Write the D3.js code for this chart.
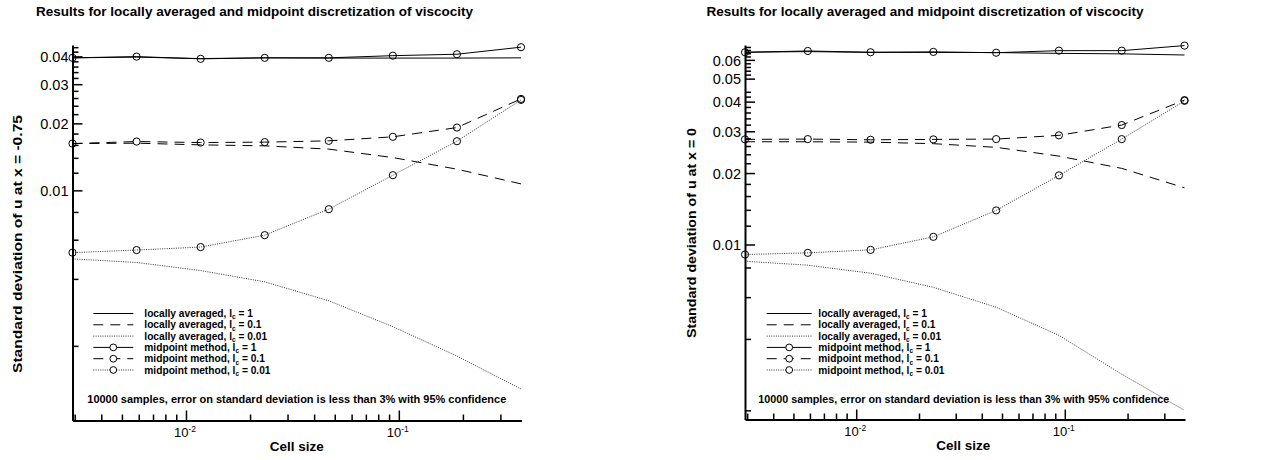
<!DOCTYPE html>
<html>
<head>
<meta charset="utf-8">
<script src="https://cdn.jsdelivr.net/npm/d3@7"></script>
<style>
  body { margin: 0; background: #fff; }
  svg { display: block; }
  text { font-family: "Liberation Sans", Arial, Helvetica, sans-serif; fill: #000; }
</style>
</head>
<body>
<svg id="chart" width="1261" height="460"></svg>
<script>
// Cell sizes (halved each refinement)
const cellSize = [0.0029297, 0.0058594, 0.0117188, 0.0234375, 0.046875, 0.09375, 0.1875, 0.375];

// Standard deviation of u at x = -0.75
const westAvg1   = [0.0394, 0.0397, 0.0391, 0.0394, 0.0393, 0.0393, 0.0393, 0.0394];
const westAvg01  = [0.01623, 0.01629, 0.01601, 0.01585, 0.01532, 0.01404, 0.01245, 0.01069];
const westAvg001 = [0.00492, 0.00474, 0.00436, 0.00388, 0.00319, 0.00244, 0.00180, 0.00128];
const westMid1   = [0.0394, 0.0399, 0.0390, 0.0394, 0.0394, 0.0403, 0.0409, 0.0440];
const westMid01  = [0.01623, 0.01657, 0.0164, 0.01647, 0.01669, 0.0174, 0.01915, 0.02576];
const westMid001 = [0.00525, 0.00539, 0.00556, 0.00629, 0.00823, 0.0117, 0.01663, 0.0255];

// Standard deviation of u at x = 0
const centreAvg1   = [0.0646, 0.0650, 0.0645, 0.0645, 0.0644, 0.0639, 0.0636, 0.0629];
const centreAvg01  = [0.0271, 0.0271, 0.0270, 0.0266, 0.02567, 0.02358, 0.02093, 0.01733];
const centreAvg001 = [0.0085, 0.00818, 0.00757, 0.0066, 0.00544, 0.00414, 0.00284, 0.00200];
const centreMid1   = [0.0646, 0.0654, 0.0646, 0.0648, 0.0643, 0.0656, 0.0656, 0.0689];
const centreMid01  = [0.02773, 0.02781, 0.02762, 0.02773, 0.02781, 0.02884, 0.03187, 0.0406];
const centreMid001 = [0.00907, 0.00922, 0.00949, 0.01077, 0.01392, 0.01955, 0.0278, 0.0403];

// Axis ticks
const xMajorTicks = [0.01, 0.1];
const xMajorExponents = ["-2", "-1"];
const xMinorTicks = [0.003, 0.004, 0.005, 0.006, 0.007, 0.008, 0.009,
                     0.02, 0.03, 0.04, 0.05, 0.06, 0.07, 0.08, 0.09, 0.2, 0.3];
const westYLabels = [0.01, 0.02, 0.03, 0.04];
const centreYLabels = [0.01, 0.02, 0.03, 0.04, 0.05, 0.06];
const yMinorTicks = [0.002, 0.004, 0.006, 0.008, 0.012, 0.014, 0.016, 0.018,
                     0.022, 0.024, 0.026, 0.028, 0.032, 0.034, 0.036, 0.038,
                     0.042, 0.044, 0.052, 0.054, 0.056, 0.058, 0.062, 0.064, 0.066, 0.068];

const legendLabels = [
  { name: "locally averaged, l", val: " = 1" },
  { name: "locally averaged, l", val: " = 0.1" },
  { name: "locally averaged, l", val: " = 0.01" },
  { name: "midpoint method, l", val: " = 1" },
  { name: "midpoint method, l", val: " = 0.1" },
  { name: "midpoint method, l", val: " = 0.01" }
];

const titleText = "Results for locally averaged and midpoint discretization of viscocity";
const noteText = "10000 samples, error on  standard deviation is less than 3% with 95% confidence";

const styles = {
  solid:  { dash: null,    color: "#000", width: 1 },
  dashed: { dash: "10,7",  color: "#000", width: 1 },
  dotted: { dash: "1,1.3", color: "#333", width: 1 }
};

const svg = d3.select("#chart");

function drawPanel(p) {
  const g = svg.append("g");
  const x = d3.scaleLog().domain(p.xDomain).range(p.xRange);
  const y = d3.scaleLog().domain(p.yDomain).range(p.yRange);
  const x0 = p.xRange[0], yBase = p.yRange[0];

  // title
  g.append("text").attr("x", p.titleX).attr("y", 16)
    .attr("text-anchor", "middle").attr("font-weight", "bold").attr("font-size", 13.5)
    .attr("textLength", 437).attr("lengthAdjust", "spacingAndGlyphs")
    .text(titleText);

  // series
  const series = [
    { v: p.avg1,   s: styles.solid,  mark: false },
    { v: p.avg01,  s: styles.dashed, mark: false },
    { v: p.avg001, s: styles.dotted, mark: false },
    { v: p.mid1,   s: styles.solid,  mark: true },
    { v: p.mid01,  s: styles.dashed, mark: true },
    { v: p.mid001, s: styles.dotted, mark: true }
  ];
  const line = d3.line().x((d, i) => x(cellSize[i])).y(d => y(d));
  series.forEach(se => {
    g.append("path").datum(se.v).attr("d", line)
      .attr("fill", "none").attr("stroke", se.s.color)
      .attr("stroke-width", se.s.width)
      .attr("stroke-dasharray", se.s.dash);
    if (se.mark) {
      g.selectAll(null).data(se.v).join("circle")
        .attr("cx", (d, i) => x(cellSize[i])).attr("cy", d => y(d))
        .attr("r", 3.6).attr("fill", "none").attr("stroke", "#000").attr("stroke-width", 1);
    }
  });

  // x axis
  const xa = g.append("g").attr("transform", `translate(0,${yBase})`);
  xa.call(d3.axisBottom(x).tickValues(xMinorTicks).tickSize(-6).tickSizeOuter(0).tickFormat(""));
  const xb = g.append("g").attr("transform", `translate(0,${yBase})`);
  xb.call(d3.axisBottom(x).tickValues(xMajorTicks).tickSize(-10).tickSizeOuter(0).tickFormat(""));
  xb.select(".domain").attr("stroke-width", 2);
  xa.select(".domain").remove();
  g.selectAll(".tick line").attr("stroke-width", 1.5);
  xMajorTicks.forEach((t, i) => {
    const tx = g.append("text").attr("x", x(t) - 1).attr("y", yBase + 16.5)
      .attr("text-anchor", "middle").attr("font-size", 13);
    tx.append("tspan").text("10");
    tx.append("tspan").attr("dy", -5).attr("font-size", 8.5).text(xMajorExponents[i]);
  });
  g.append("text").attr("x", p.xTitleX).attr("y", yBase + 30)
    .attr("text-anchor", "middle").attr("font-weight", "bold").attr("font-size", 13.5)
    .text("Cell size");

  // y axis
  const ya = g.append("g").attr("transform", `translate(${x0},0)`);
  ya.call(d3.axisLeft(y).tickValues(yMinorTicks.filter(t => t > p.yDomain[0] && t < p.yDomain[1]))
    .tickSize(-6).tickSizeOuter(0).tickFormat(""));
  ya.select(".domain").remove();
  const yb = g.append("g").attr("transform", `translate(${x0},0)`);
  yb.call(d3.axisLeft(y).tickValues(p.yLabels).tickSize(-10).tickSizeOuter(0)
    .tickPadding(4).tickFormat(d3.format(".2f")));
  yb.select(".domain").attr("stroke-width", 2);
  yb.selectAll("text").attr("font-size", 14.5).attr("font-family", "'Liberation Sans', Arial, sans-serif")
    .attr("dy", "0.36em");
  g.selectAll(".tick line").attr("stroke-width", 1.5);

  g.append("text")
    .attr("transform", `translate(${p.yTitleX},${p.yTitleY}) rotate(-90)`)
    .attr("text-anchor", "middle").attr("font-weight", "bold").attr("font-size", 13.5)
    .attr("textLength", p.yTitleLen).attr("lengthAdjust", "spacingAndGlyphs")
    .text(p.yTitle);

  // legend
  const lg = g.append("g");
  const legendStyles = [styles.solid, styles.dashed, styles.dotted, styles.solid, styles.dashed, styles.dotted];
  legendStyles.forEach((s, i) => {
    const ly = 313.5 + i * 11.3;
    lg.append("line").attr("x1", p.legendX).attr("x2", p.legendX + p.legendLen)
      .attr("y1", ly).attr("y2", ly).attr("stroke", s.color).attr("stroke-width", s.width)
      .attr("stroke-dasharray", s.dash);
    if (i >= 3) {
      lg.append("circle").attr("cx", p.legendX + p.legendLen / 2).attr("cy", ly).attr("r", 3.4)
        .attr("fill", "#fff").attr("stroke", "#000");
    }
    const t = lg.append("text").attr("x", p.legendTextX).attr("y", ly + 3.6)
      .attr("font-weight", "bold").attr("font-size", 10.2);
    t.append("tspan").text(legendLabels[i].name);
    t.append("tspan").attr("dy", 2.2).attr("font-size", 6.5).text("c");
    t.append("tspan").attr("dy", -2.2).text(legendLabels[i].val);
  });

  // note
  g.append("text").attr("x", p.noteX).attr("y", 403)
    .attr("font-weight", "bold").attr("font-size", 10.5)
    .attr("textLength", p.noteLen).attr("lengthAdjust", "spacingAndGlyphs")
    .text(noteText);
}

drawPanel({
  xDomain: [0.0029297, 0.377], xRange: [72.5, 521.5],
  yDomain: [0.000924, 0.045], yRange: [420.5, 45],
  yLabels: westYLabels,
  avg1: westAvg1, avg01: westAvg01, avg001: westAvg001,
  mid1: westMid1, mid01: westMid01, mid001: westMid001,
  titleX: 254.5, xTitleX: 296.7,
  yTitle: "Standard deviation of u at x = -0.75", yTitleX: 21.5, yTitleY: 244, yTitleLen: 258,
  legendX: 93.3, legendLen: 40, legendTextX: 144.3,
  noteX: 87.3, noteLen: 419
});

drawPanel({
  xDomain: [0.0029297, 0.377], xRange: [745, 1185],
  yDomain: [0.00183, 0.0693], yRange: [419.5, 45],
  yLabels: centreYLabels,
  avg1: centreAvg1, avg01: centreAvg01, avg001: centreAvg001,
  mid1: centreMid1, mid01: centreMid01, mid001: centreMid001,
  titleX: 925, xTitleX: 963.3,
  yTitle: "Standard deviation of u at x = 0", yTitleX: 696, yTitleY: 233, yTitleLen: 210,
  legendX: 766.7, legendLen: 45, legendTextX: 818.3,
  noteX: 758.3, noteLen: 411
});
</script>
</body>
</html>
